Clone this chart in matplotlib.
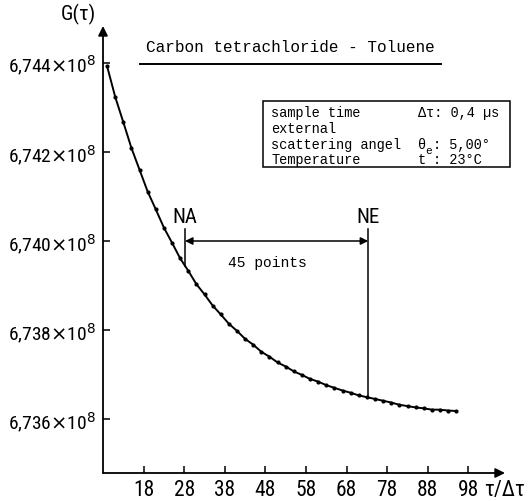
import matplotlib
matplotlib.use("Agg")
import matplotlib.pyplot as plt
from matplotlib import font_manager
import numpy as np

# ---- data ----
channels = [9, 11, 13, 15, 17, 19, 21, 23, 25, 27, 29, 31, 33, 35, 37, 39, 41, 43, 45,
            47, 49, 51, 53, 55, 57, 59, 61, 63, 65, 67, 69, 71, 73, 75, 77, 79, 81, 83,
            85, 87, 89, 91, 93, 95]
G_e8 = [6.74393, 6.74324, 6.74267, 6.74209, 6.74160, 6.74111, 6.74071, 6.74030,
        6.73996, 6.73961, 6.73933, 6.73903, 6.73880, 6.73855, 6.73835, 6.73814,
        6.73798, 6.73780, 6.73767, 6.73751, 6.73740, 6.73727, 6.73718, 6.73707,
        6.73699, 6.73690, 6.73684, 6.73676, 6.73670, 6.73664, 6.73659, 6.73653,
        6.73649, 6.73645, 6.73641, 6.73637, 6.73632, 6.73629, 6.73626, 6.73624,
        6.73621, 6.73621, 6.73619, 6.73618]
x_ticks = [18, 28, 38, 48, 58, 68, 78, 88, 98]
x_tick_labels = ["18", "28", "38", "48", "58", "68", "78", "88", "98"]
y_ticks = [6.736, 6.738, 6.740, 6.742, 6.744]
y_tick_labels = ["6,736", "6,738", "6,740", "6,742", "6,744"]
NA_channel = 28.2
NE_channel = 73.3
title = "Carbon tetrachloride - Toluene"
info_left = ["sample time", "external", "scattering angel", "Temperature"]

names = {f.name for f in font_manager.fontManager.ttflist}
narrow_kw = dict(fontfamily="DejaVu Sans", fontstretch="condensed")
for cand in ["Liberation Sans Narrow", "DejaVu Sans Condensed", "Roboto Condensed",
             "Open Sans Condensed"]:
    if cand in names:
        narrow_kw = dict(fontfamily=cand, fontstretch="condensed")
        break
mono = "Liberation Mono"

W, H = 528, 502
fig = plt.figure(figsize=(W / 100, H / 100), dpi=100)
ax = fig.add_axes([103 / W, (H - 474) / H, (505 - 103) / W, (474 - 27) / H])
ax.set_xlim(8, 107.0)
ax.set_ylim(6.734787, 6.744831)

ax.plot(channels, G_e8, color="black", lw=1.4, marker="o", ms=3.0,
        markerfacecolor="black", markeredgewidth=0)

for s in ax.spines.values():
    s.set_visible(False)
ax.annotate("", xy=(0, 1.0), xytext=(0, 0), xycoords="axes fraction",
            arrowprops=dict(arrowstyle="-|>", lw=1.3, color="black",
                            mutation_scale=14, shrinkA=0, shrinkB=0))
ax.annotate("", xy=(1.0, 0), xytext=(0, 0), xycoords="axes fraction",
            arrowprops=dict(arrowstyle="-|>", lw=1.3, color="black",
                            mutation_scale=14, shrinkA=0, shrinkB=0))

ax.set_xticks(x_ticks)
ax.set_xticklabels(x_tick_labels, fontsize=15.5, **narrow_kw)
ax.set_yticks(y_ticks)
ax.set_yticklabels([l + r"$\times$10$^{8}$" for l in y_tick_labels],
                   fontsize=14, **narrow_kw)
ax.tick_params(direction="in", length=5, width=1.1, pad=5)
ax.tick_params(axis="x", pad=4)

fig.text(484 / W, 1 - 491 / H, "τ/Δτ", fontsize=15.5, ha="left", va="center",
         **narrow_kw)
fig.text(78 / W, 1 - 14 / H, "G(τ)", fontsize=15, ha="center", va="center",
         **narrow_kw)

fig.text(290 / W, 1 - 48 / H, title, fontfamily=mono, fontsize=11.5,
         ha="center", va="center")
fig.add_artist(plt.Line2D([140 / W, 441 / W], [1 - 65 / H, 1 - 65 / H],
                          color="black", lw=1.4))

# NA / NE markers
y_top = 6.74027
y_arrow = 6.74000
G_NA = np.interp(NA_channel, channels, G_e8)
G_NE = np.interp(NE_channel, channels, G_e8)
ax.plot([NA_channel, NA_channel], [y_top, G_NA], color="black", lw=1.1)
ax.plot([NE_channel, NE_channel], [y_top, G_NE], color="black", lw=1.1)
ax.annotate("", xy=(NA_channel, y_arrow), xytext=(NE_channel, y_arrow),
            arrowprops=dict(arrowstyle="<|-|>", lw=1.1, color="black",
                            mutation_scale=11, shrinkA=0, shrinkB=0))
ax.text(NA_channel, 6.74056, "NA", fontsize=15, ha="center", va="center", **narrow_kw)
ax.text(NE_channel, 6.74056, "NE", fontsize=15, ha="center", va="center", **narrow_kw)
ax.text(48.5, 6.73953, "45 points", fontfamily=mono, fontsize=10.5,
        ha="center", va="center")

# info box
fig.add_artist(plt.Rectangle((263 / W, 1 - 168 / H), (510 - 263) / W, (168 - 102) / H,
                             fill=False, edgecolor="black", lw=1.1))
ys = [113, 129, 145, 160]
for txt, yy in zip(info_left, ys):
    fig.text(271 / W, 1 - yy / H, txt, fontfamily=mono, fontsize=9.8,
             ha="left", va="center")
fig.text(418 / W, 1 - ys[0] / H, "Δτ: 0,4 µs", fontfamily=mono, fontsize=9.8,
         ha="left", va="center")
fig.text(418 / W, 1 - ys[2] / H, "θ", fontfamily=mono, fontsize=9.8,
         ha="left", va="center")
fig.text(425 / W, 1 - (ys[2] + 6) / H, "e", fontfamily=mono, fontsize=8,
         ha="left", va="center")
fig.text(433 / W, 1 - ys[2] / H, ": 5,00°", fontfamily=mono, fontsize=9.8,
         ha="left", va="center")
fig.text(418 / W, 1 - ys[3] / H, "t", fontfamily=mono, fontsize=9.8,
         ha="left", va="center")
fig.text(433 / W, 1 - ys[3] / H, ": 23°C", fontfamily=mono, fontsize=9.8,
         ha="left", va="center")

fig.savefig("out.png", dpi=100)
